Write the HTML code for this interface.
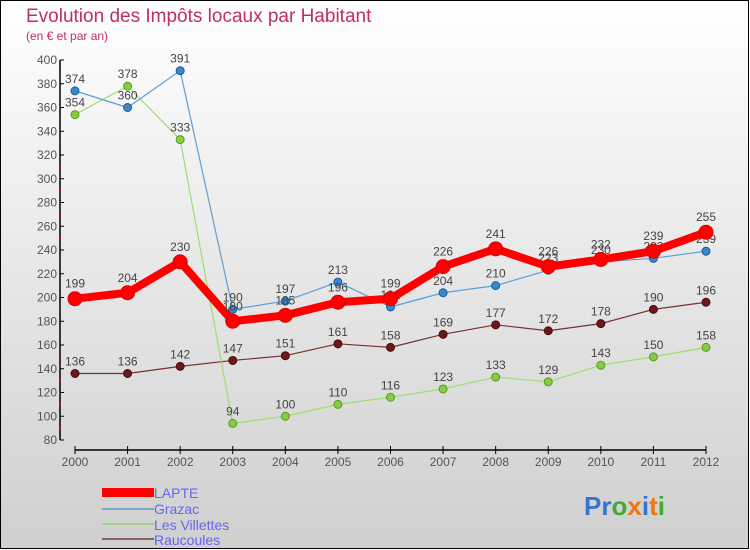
<!DOCTYPE html>
<html><head><meta charset="utf-8"><style>
body{margin:0}
#c{width:750px;height:550px;position:relative;overflow:hidden}
svg text{font-family:"Liberation Sans",sans-serif}
</style></head><body>
<div id="c">
<svg id="s" width="750" height="550" xmlns="http://www.w3.org/2000/svg">
<defs><linearGradient id="bg" x1="0" y1="0" x2="0" y2="1"><stop offset="0" stop-color="#ffffff"/><stop offset="1" stop-color="#cfcfcf"/></linearGradient></defs>
<rect x="0.5" y="0.5" width="748" height="548" fill="url(#bg)" stroke="#000"/>
<text x="26" y="22" font-size="19" fill="#c0305a">Evolution des Impôts locaux par Habitant</text>
<text x="26" y="40" font-size="12" fill="#c0305a">(en € et par an)</text>
<g id="axes"></g><g id="series"></g>
<g>
<rect x="102" y="488" width="52" height="9" fill="#f00"/>
<text x="154" y="498" font-size="14" fill="#6666ee">LAPTE</text>
<rect x="102" y="508" width="52" height="2" fill="#7aa6c8"/>
<text x="154" y="514" font-size="14" fill="#6666ee">Grazac</text>
<rect x="102" y="523" width="52" height="2" fill="#9cd67c"/>
<text x="154" y="530" font-size="14" fill="#6666ee">Les Villettes</text>
<rect x="102" y="538" width="52" height="2" fill="#8a6060"/>
<text x="154" y="545" font-size="14" fill="#6666ee">Raucoules</text>
</g>
<g font-size="26" font-weight="bold">
<text x="584" y="515"><tspan fill="#3377cc">Pr</tspan><tspan fill="#44aa33">o</tspan><tspan fill="#ee7711">x</tspan><tspan fill="#3377cc">i</tspan><tspan fill="#ee7711">t</tspan><tspan fill="#44aa33">i</tspan></text>
</g>
</svg></div>
<script>
const years=[2000,2001,2002,2003,2004,2005,2006,2007,2008,2009,2010,2011,2012];
const lapte=[199,204,230,180,185,196,199,226,241,226,232,239,255];
const grazac=[374,360,391,190,197,213,192,204,210,223,230,233,239];
const villettes=[354,378,333,94,100,110,116,123,133,129,143,150,158];
const raucoules=[136,136,142,147,151,161,158,169,177,172,178,190,196];
const yTicks=[80,100,120,140,160,180,200,220,240,260,280,300,320,340,360,380,400];
const NS="http://www.w3.org/2000/svg";
const x=i=>75+i*(706-75)/(years.length-1);
const y=v=>440-(v-80)*380/320;
function mk(t,a,p){const e=document.createElementNS(NS,t);for(const k in a)e.setAttribute(k,a[k]);p.appendChild(e);return e;}
const ax=document.getElementById('axes');
let e=mk('line',{x1:60,y1:60,x2:60,y2:440,stroke:'#000','stroke-width':1.5},ax);


yTicks.forEach((v,i)=>{
  mk('line',{x1:60,y1:y(v),x2:64,y2:y(v),stroke:'#000'},ax);
  if(i<yTicks.length-1) mk('line',{x1:59,y1:y(v+10),x2:61,y2:y(v+10),stroke:'#f00'},ax);
  const t=mk('text',{x:57,y:y(v)+4,'font-size':12,'text-anchor':'end',fill:'#555'},ax);
  t.textContent=v;
  
  
});
e=mk('line',{x1:75,y1:450,x2:706,y2:450,stroke:'#000','stroke-width':1.5},ax);


years.forEach((yr,i)=>{
  mk('line',{x1:x(i),y1:446,x2:x(i),y2:454,stroke:'#000'},ax);
  const t=mk('text',{x:x(i),y:466,'font-size':12,'text-anchor':'middle',fill:'#555'},ax);
  t.textContent=yr;
  
  
});
const sg=document.getElementById('series');
function draw(data,name,color,w,r,dot,stroke){
  const g=mk('g',{},sg);
  
  
  const l=mk('polyline',{points:data.map((v,i)=>x(i)+','+y(v)).join(' '),fill:'none',stroke:color,'stroke-width':w,'stroke-linejoin':'round'},g);
  
  
  data.forEach((v,i)=>{
    const c=mk('circle',{cx:x(i),cy:y(v),r:r,fill:dot,stroke:stroke,'stroke-width':1},g);
    
    
    const t=mk('text',{x:x(i),y:y(v)-r-4,'font-size':12,'text-anchor':'middle',fill:'#444'},g);
    t.textContent=v;
    
    
  });
}
draw(raucoules,'raucoules','#7a3030',1.2,4,'#6a1a1a','#4a0a0a');
draw(villettes,'villettes','#9cde6c',1.2,4,'#88cc44','#559922');
draw(grazac,'grazac','#5aa0d8',1.2,4,'#3a88cc','#1a5a99');
draw(lapte,'lapte','#ff0000',8,7,'#ff0000','#dd0000');
</script>
</body></html>
